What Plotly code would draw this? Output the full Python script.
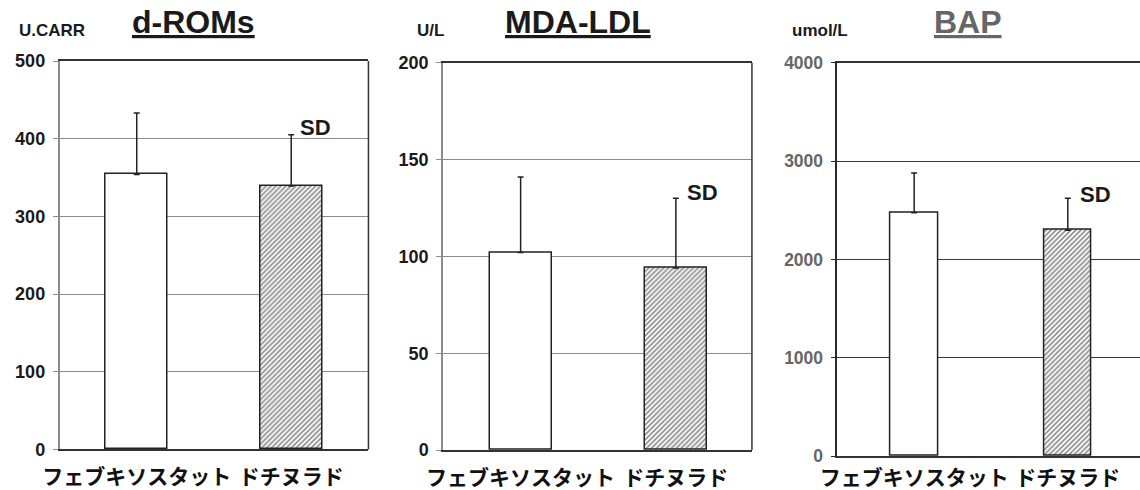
import plotly.graph_objects as go

categories = ["フェブキソスタット", "ドチヌラド"]
titles = ["d-ROMs", "MDA-LDL", "BAP"]
units = ["U.CARR", "U/L", "umol/L"]

droms_mean = [354, 339]
droms_sd = [79, 66]
mda_mean = [102, 94]
mda_sd = [39, 36]
bap_mean = [2474, 2298]
bap_sd = [404, 324]

droms_ticks = [0, 100, 200, 300, 400, 500]
mda_ticks = [0, 50, 100, 150, 200]
bap_ticks = [0, 1000, 2000, 3000, 4000]

sd_label_y = [415, 133, 2660]

panels = [
    dict(mean=droms_mean, sd=droms_sd, ticks=droms_ticks, ymax=500,
         xdom=[0.0522, 0.3232], ydom=[0.0827, 0.8755], xr=[-0.5, 1.5], bw=0.40,
         grid="#8c8c8c", left="#8c8c8c", tfont=dict(family="Liberation Sans", size=18, color="#1a1a1a"),
         title_x=193, title_color="#1a1a1a", unit_x=17, sd_x=1.044, right=True, xstand=8),
    dict(mean=mda_mean, sd=mda_sd, ticks=mda_ticks, ymax=200,
         xdom=[0.3886, 0.6596], ydom=[0.0816, 0.872], xr=[-0.5, 1.49], bw=0.40,
         grid="#8c8c8c", left="#8c8c8c", tfont=dict(family="Liberation Sans", size=18, color="#1a1a1a"),
         title_x=578, title_color="#1a1a1a", unit_x=415, sd_x=1.058, right=True, xstand=8),
    dict(mean=bap_mean, sd=bap_sd, ticks=bap_ticks, ymax=4000,
         xdom=[0.7345, 1.0], ydom=[0.069, 0.872], xr=[-0.5, 1.47], bw=0.31,
         grid="#3a3a3a", left="#2a2a2a", tfont=dict(family="Liberation Sans", size=17.5, color="#666666"),
         title_x=968, title_color="#666666", unit_x=790, sd_x=1.066, right=False, xstand=2),
]

fig = go.Figure()
annotations = []
shapes = []
for i, p in enumerate(panels):
    n = "" if i == 0 else str(i + 1)
    xa, ya = "x" + n, "y" + n
    fig.add_trace(go.Bar(
        x=[0, 1], y=p["mean"], width=[p["bw"], p["bw"]],
        xaxis=xa, yaxis=ya,
        marker=dict(color="white", line=dict(color="#222222", width=1.5),
                    pattern=dict(shape=["", "/"], fgcolor="#222222", bgcolor="white",
                                 size=3.5, solidity=0.5)),
        error_y=dict(type="data", array=p["sd"], arrayminus=[0, 0], symmetric=False,
                     color="#222222", thickness=1.5, width=3),
        showlegend=False, hoverinfo="skip",
    ))
    tick_text = ["<b>" + str(v) + "</b>" for v in p["ticks"]]
    fig.update_layout(**{
        ("xaxis" + n): dict(domain=p["xdom"], range=p["xr"], anchor=ya,
                            tickvals=[0, 1], ticktext=["<b>" + c + "</b>" for c in categories], ticks="",
                            tickfont=dict(family="Noto Sans CJK JP", size=21, color="#111111"),
                            showline=True, linecolor="#333333", linewidth=1.5, mirror=True,
                            showgrid=False, zeroline=False, fixedrange=True, automargin=False,
                            ticklabelstandoff=p["xstand"]),
        ("yaxis" + n): dict(domain=p["ydom"], range=[0, p["ymax"]], anchor=xa,
                            tickvals=p["ticks"], ticktext=tick_text,
                            tickfont=p["tfont"], ticks="outside", ticklen=5,
                            tickcolor=p["left"], tickwidth=1.3,
                            showline=True, linecolor=p["left"], linewidth=1.5, mirror=False,
                            showgrid=True, gridcolor=p["grid"], gridwidth=1.3,
                            zeroline=False, fixedrange=True, automargin=False, ticklabelstandoff=4),
    })
    if p["right"]:
        shapes.append(dict(type="line", xref=xa + " domain", yref=ya + " domain",
                           x0=1, x1=1, y0=0, y1=1, line=dict(color="#333333", width=1.5)))
    annotations.append(dict(text="<b><u>" + titles[i] + "</u></b>", xref="paper", yref="paper",
                            x=p["title_x"] / 1140, y=1 - 22 / 490, xanchor="center", yanchor="middle",
                            showarrow=False,
                            font=dict(family="Liberation Sans", size=32, color=p["title_color"])))
    annotations.append(dict(text="<b>" + units[i] + "</b>", xref="paper", yref="paper",
                            x=p["unit_x"] / 1140, y=1 - 31 / 490, xanchor="left", yanchor="middle",
                            showarrow=False,
                            font=dict(family="Liberation Sans", size=17, color="#1a1a1a")))
    annotations.append(dict(text="<b>SD</b>", xref=xa, yref=ya, x=p["sd_x"], y=sd_label_y[i],
                            xanchor="left", yanchor="middle", showarrow=False,
                            font=dict(family="Liberation Sans", size=22, color="#1a1a1a")))

fig.update_layout(width=1140, height=490, margin=dict(l=0, r=0, t=0, b=0, autoexpand=False),
                  paper_bgcolor="white", plot_bgcolor="white",
                  annotations=annotations, shapes=shapes, bargap=0)
fig.write_html("out.html", config={"displayModeBar": False},
               post_script="document.body.style.margin='0px';document.body.style.overflow='hidden';")
